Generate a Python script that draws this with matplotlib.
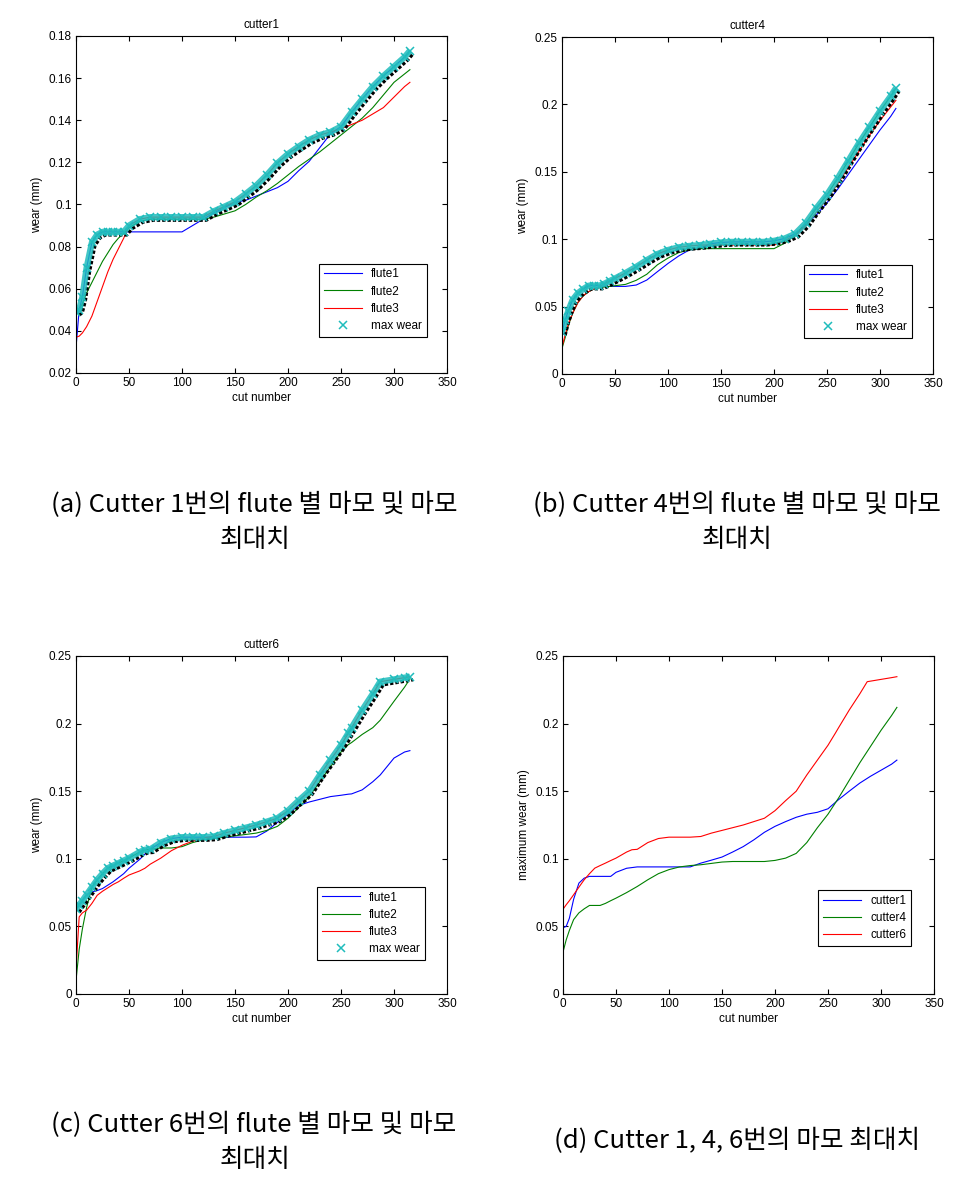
import matplotlib
matplotlib.use('Agg')
import matplotlib.pyplot as plt
import matplotlib.transforms as mtransforms
from matplotlib.ticker import FuncFormatter
import numpy as np

plt.rcParams['font.family'] = ['Liberation Sans', 'DejaVu Sans']

# cut grid (cutter1, cutter4)
cuts = [0, 3, 6, 10, 15, 20, 25, 30, 35, 40, 45, 50, 60, 70, 80, 90, 100, 110, 120,
        130, 140, 150, 160, 170, 180, 190, 200, 210, 220, 230, 240, 250, 260, 270,
        280, 290, 300, 310, 315]

# cutter1 flute wear (mm)
c1_flute1 = [0.032, 0.050, 0.056, 0.070, 0.082, 0.0857, 0.087, 0.087, 0.087, 0.087, 0.087,
             0.087, 0.087, 0.087, 0.087, 0.087, 0.087, 0.090, 0.093, 0.096, 0.0985, 0.101,
             0.102, 0.104, 0.106, 0.108, 0.111, 0.116, 0.1205, 0.127, 0.1335, 0.137,
             0.1438, 0.150, 0.156, 0.161, 0.1655, 0.170, 0.173]
c1_flute2 = [0.049, 0.050, 0.053, 0.058, 0.063, 0.068, 0.073, 0.077, 0.081, 0.084, 0.0863,
             0.089, 0.092, 0.093, 0.093, 0.093, 0.093, 0.093, 0.093, 0.094, 0.0955, 0.097,
             0.100, 0.1035, 0.1065, 0.110, 0.114, 0.118, 0.1215, 0.125, 0.129, 0.133,
             0.137, 0.141, 0.146, 0.152, 0.158, 0.162, 0.164]
c1_flute3 = [0.037, 0.0375, 0.039, 0.042, 0.047, 0.054, 0.061, 0.068, 0.074, 0.079, 0.084,
             0.090, 0.093, 0.094, 0.094, 0.094, 0.094, 0.094, 0.094, 0.0968, 0.099, 0.1013,
             0.105, 0.109, 0.114, 0.1196, 0.124, 0.1275, 0.1307, 0.133, 0.1344, 0.136,
             0.138, 0.140, 0.143, 0.146, 0.151, 0.156, 0.158]

# cutter4 flute wear (mm)
c4_flute1 = [0.031, 0.040, 0.047, 0.055, 0.060, 0.063, 0.0655, 0.0655, 0.0655, 0.065, 0.065,
             0.065, 0.065, 0.066, 0.0697, 0.0759, 0.082, 0.0875, 0.092, 0.093, 0.0966,
             0.0976, 0.098, 0.098, 0.098, 0.098, 0.0988, 0.1005, 0.104, 0.111, 0.118,
             0.127, 0.137, 0.148, 0.159, 0.170, 0.181, 0.191, 0.197]
c4_flute2 = [0.019, 0.027, 0.036, 0.045, 0.053, 0.058, 0.061, 0.063, 0.064, 0.0645, 0.065,
             0.0655, 0.0665, 0.0695, 0.074, 0.081, 0.086, 0.090, 0.092, 0.093, 0.093, 0.093,
             0.093, 0.093, 0.093, 0.093, 0.093, 0.097, 0.103, 0.112, 0.123, 0.133, 0.145,
             0.158, 0.171, 0.183, 0.195, 0.206, 0.212]
c4_flute3 = [0.020, 0.029, 0.037, 0.045, 0.053, 0.058, 0.061, 0.063, 0.064, 0.067, 0.069,
             0.0709, 0.075, 0.0795, 0.0845, 0.089, 0.092, 0.094, 0.095, 0.0956, 0.0957,
             0.0957, 0.0957, 0.0957, 0.0957, 0.0957, 0.0957, 0.099, 0.103, 0.110, 0.120,
             0.130, 0.141, 0.153, 0.165, 0.177, 0.188, 0.198, 0.203]

# cut grid (cutter6)
cuts6 = [0, 3, 6, 10, 15, 20, 25, 30, 35, 40, 45, 50, 60, 65, 70, 80, 90, 100, 110, 120,
         130, 140, 150, 160, 170, 180, 190, 200, 210, 220, 230, 240, 250, 257, 260, 270,
         280, 287, 300, 310, 315]

c6_flute1 = [0.0627, 0.066, 0.069, 0.0734, 0.0755, 0.0765, 0.078, 0.0805, 0.083, 0.086,
             0.089, 0.093, 0.0995, 0.1035, 0.107, 0.112, 0.115, 0.116, 0.116, 0.116, 0.116,
             0.116, 0.116, 0.116, 0.1162, 0.1205, 0.127, 0.133, 0.1395, 0.142, 0.144, 0.146,
             0.147, 0.1478, 0.148, 0.151, 0.157, 0.162, 0.1745, 0.179, 0.180]
c6_flute2 = [0.010, 0.033, 0.048, 0.064, 0.079, 0.0845, 0.089, 0.0931, 0.095, 0.0968, 0.0987,
             0.1005, 0.105, 0.1067, 0.107, 0.108, 0.108, 0.109, 0.112, 0.114, 0.115, 0.116,
             0.117, 0.118, 0.119, 0.121, 0.124, 0.130, 0.138, 0.146, 0.157, 0.168, 0.179,
             0.1845, 0.186, 0.192, 0.197, 0.2025, 0.2165, 0.227, 0.233]
c6_flute3 = [0.018, 0.057, 0.060, 0.062, 0.067, 0.073, 0.076, 0.0785, 0.081, 0.083, 0.0856,
             0.088, 0.091, 0.093, 0.096, 0.1005, 0.106, 0.110, 0.113, 0.1155, 0.1165, 0.119,
             0.121, 0.123, 0.125, 0.1275, 0.130, 0.1356, 0.143, 0.150, 0.162, 0.173, 0.184,
             0.193, 0.197, 0.210, 0.222, 0.231, 0.2327, 0.234, 0.2347]

c1_max = np.max([c1_flute1, c1_flute2, c1_flute3], axis=0)
c4_max = np.max([c4_flute1, c4_flute2, c4_flute3], axis=0)
c6_max = np.max([c6_flute1, c6_flute2, c6_flute3], axis=0)

BLUE = '#0000ff'
GREEN = '#008000'
RED = '#ff0000'
CYAN = '#1fbcbc'
TICK_FS = 8.5

fig = plt.figure(figsize=(9.73, 11.82), dpi=100)
W, H = 973.0, 1182.0


def make_axes(left, top, right, bottom):
    return fig.add_axes([left / W, 1 - bottom / H, (right - left) / W, (bottom - top) / H])


def style(ax, ylim, yticks):
    ax.set_xlim(0, 350)
    ax.set_xticks(range(0, 351, 50))
    ax.set_ylim(*ylim)
    ax.set_yticks(yticks)
    ax.yaxis.set_major_formatter(FuncFormatter(lambda v, p: '%g' % round(v, 4)))
    ax.tick_params(direction='in', top=True, right=True, length=3.5, width=0.8,
                   labelsize=TICK_FS, pad=3)
    for s in ax.spines.values():
        s.set_linewidth(0.8)


def flute_plot(ax, x, f1, f2, f3, mx, title, anchor):
    ax.plot(x, f1, color=BLUE, lw=0.8, label='flute1')
    ax.plot(x, f2, color=GREEN, lw=0.8, label='flute2')
    ax.plot(x, f3, color=RED, lw=0.8, label='flute3')
    off = mtransforms.offset_copy(ax.transData, fig=fig, x=2.2, y=-2.2, units='points')
    ax.plot(x, mx, color='black', lw=2.4, ls=(0, (1.0, 0.6)), transform=off)
    ax.plot(x, mx, color=CYAN, lw=4.5, alpha=0.85, solid_capstyle='butt')
    ax.plot(x, mx, 'x', color=CYAN, ms=5.5, mew=1.1, label='max wear')
    ax.set_title(title, fontsize=TICK_FS, pad=6)
    ax.set_xlabel('cut number', fontsize=TICK_FS, labelpad=2)
    ax.set_ylabel('wear (mm)', fontsize=TICK_FS, labelpad=4)
    leg = ax.legend(loc='lower right', bbox_to_anchor=anchor, fontsize=TICK_FS,
                    fancybox=False, edgecolor='black', framealpha=1, borderaxespad=0,
                    handlelength=3.2, labelspacing=0.45, borderpad=0.4)
    leg.get_frame().set_linewidth(0.8)


ax1 = make_axes(76, 36, 447, 373)
flute_plot(ax1, cuts, c1_flute1, c1_flute2, c1_flute3, c1_max, 'cutter1', (0.946, 0.107))
style(ax1, (0.02, 0.18), np.arange(0.02, 0.181, 0.02))

ax2 = make_axes(562, 37, 933, 374)
flute_plot(ax2, cuts, c4_flute1, c4_flute2, c4_flute3, c4_max, 'cutter4', (0.943, 0.107))
style(ax2, (0, 0.25), np.arange(0, 0.251, 0.05))

ax3 = make_axes(76, 656, 447, 994)
flute_plot(ax3, cuts6, c6_flute1, c6_flute2, c6_flute3, c6_max, 'cutter6', (0.940, 0.100))
style(ax3, (0, 0.25), np.arange(0, 0.251, 0.05))

ax4 = make_axes(563, 656, 934, 994)
ax4.plot(cuts, c1_max, color=BLUE, lw=0.8, label='cutter1')
ax4.plot(cuts, c4_max, color=GREEN, lw=0.8, label='cutter4')
ax4.plot(cuts6, c6_max, color=RED, lw=0.8, label='cutter6')
ax4.set_xlabel('cut number', fontsize=TICK_FS, labelpad=2)
ax4.set_ylabel('maximum wear (mm)', fontsize=TICK_FS, labelpad=4)
leg = ax4.legend(loc='lower right', bbox_to_anchor=(0.938, 0.142), fontsize=TICK_FS,
                 fancybox=False, edgecolor='black', framealpha=1, borderaxespad=0,
                 handlelength=3.2, labelspacing=0.45, borderpad=0.4)
leg.get_frame().set_linewidth(0.8)
style(ax4, (0, 0.25), np.arange(0, 0.251, 0.05))

# captions
CAP = dict(family=['Noto Sans CJK KR', 'DejaVu Sans'], fontsize=18.5, ha='center', va='center')
fig.text(254 / W, 1 - 505 / H, '(a) Cutter 1번의 flute 별 마모 및 마모', **CAP)
fig.text(255 / W, 1 - 540 / H, '최대치', **CAP)
fig.text(737 / W, 1 - 505 / H, '(b) Cutter 4번의 flute 별 마모 및 마모', **CAP)
fig.text(737 / W, 1 - 540 / H, '최대치', **CAP)
fig.text(254 / W, 1 - 1125 / H, '(c) Cutter 6번의 flute 별 마모 및 마모', **CAP)
fig.text(255 / W, 1 - 1160 / H, '최대치', **CAP)
fig.text(737 / W, 1 - 1141 / H, '(d) Cutter 1, 4, 6번의 마모 최대치', **CAP)

fig.savefig('out.png', dpi=100)
